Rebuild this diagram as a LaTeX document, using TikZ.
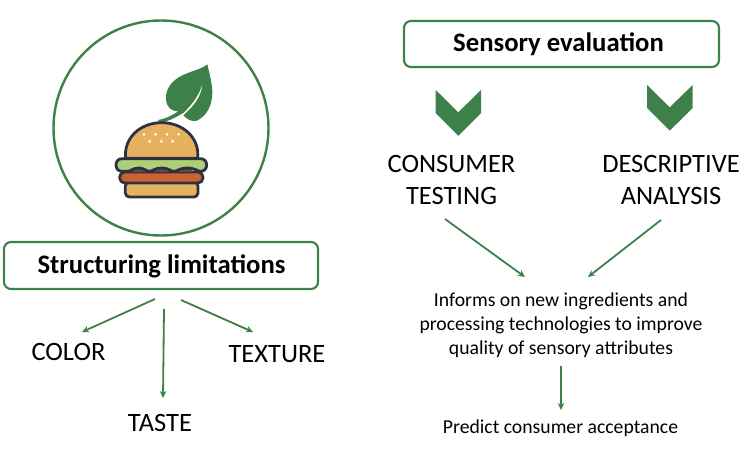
\documentclass[tikz,border=0pt]{standalone}
\usepackage{fontspec}
\setmainfont{Carlito}
\definecolor{grn}{RGB}{62,128,74}
\definecolor{dark}{RGB}{46,48,68}
\definecolor{bun}{RGB}{230,178,96}
\definecolor{lett}{RGB}{172,207,120}
\definecolor{patty}{RGB}{203,98,50}
\definecolor{meat}{RGB}{110,70,60}
\tikzset{
  titlebox/.style={draw=grn,line width=2.1pt,rounded corners=7pt,fill=white,inner sep=0pt},
  titletext/.style={font=\fontsize{26.7}{30}\selectfont\bfseries,text=black,inner sep=0pt},
  biglabel/.style={font=\fontsize{26.5}{32}\selectfont,align=center,text=black,inner sep=0pt},
  smalllabel/.style={font=\fontsize{19.7}{24}\selectfont,align=center,text=black,inner sep=0pt},
  conn/.style={draw=grn,line width=1.8pt,-{Stealth[length=7pt,width=6.5pt]}},
  chev/.style={fill=grn,draw=none},
  brg/.style={draw=dark,line width=2.8pt,line join=round},
}
\usetikzlibrary{arrows.meta}
\begin{document}
\begin{tikzpicture}[x=1pt,y=-1pt]
\useasboundingbox (0,0) rectangle (750,450);
\fill[white] (0,0) rectangle (750,450);
% circle
\node[circle,draw=grn,line width=2.4pt,minimum size=215pt,inner sep=0pt] (ring) at (161,128) {};
% leaf and burger
\begin{scope}[shift={(90,50)},x=0.3333pt,y=-0.3333pt]
  \fill[grn] (352,43) .. controls (330,62) and (285,65) .. (255,90)
     .. controls (230,110) and (222,140) .. (232,165)
     .. controls (240,180) and (255,185) .. (265,184)
     .. controls (245,197) and (225,207) .. (205,210)
     -- (207,219) .. controls (235,215) and (262,200) .. (281,188)
     .. controls (310,160) and (330,130) .. (338,100)
     .. controls (335,140) and (310,170) .. (280,196)
     .. controls (290,208) and (305,215) .. (318,213)
     .. controls (350,200) and (368,165) .. (367,125)
     .. controls (366,95) and (358,70) .. (352,43) -- cycle;
  \draw[brg,fill=bun] (107,325) .. controls (100,265) and (150,218) .. (215,218)
     .. controls (280,218) and (330,265) .. (323,325) -- cycle;
  \draw[brg,fill=bun,rounded corners=4pt] (106,396) -- (324,396) -- (324,441) -- (106,441) -- cycle;
  \draw[brg,fill=patty,rounded corners=5pt] (89,366) -- (339,366) -- (339,399) -- (89,399) -- cycle;
  \fill[meat] (122,366) .. controls (132,350) and (160,350) .. (170,366) -- cycle;
  \fill[meat] (192,366) .. controls (202,350) and (228,350) .. (238,366) -- cycle;
  \fill[meat] (262,366) .. controls (272,350) and (300,350) .. (310,366) -- cycle;
  \draw[brg,fill=lett] (96,326) -- (332,326) .. controls (356,326) and (356,364) .. (332,364)
     .. controls (322,364) and (316,354) .. (290,354) .. controls (270,354) and (262,364) .. (252,364)
     .. controls (242,364) and (236,354) .. (215,354) .. controls (194,354) and (188,364) .. (178,364)
     .. controls (168,364) and (162,354) .. (146,354) .. controls (130,354) and (122,364) .. (112,364)
     -- (96,364) .. controls (72,364) and (72,326) .. (96,326) -- cycle;
  \foreach \px/\py in {162/253,196/253,231/253,266/253,179/274,214/274,248/274}
    \fill[white!90!yellow] (\px,\py) circle (4.5);
\end{scope}
% boxes
\node[titlebox,minimum width=314pt,minimum height=47pt] (lbox) at (161,265.5) {};
\node[titletext] (ltext) at (161.5,266) {Structuring limitations};
\node[titlebox,minimum width=315pt,minimum height=46pt] (rbox) at (561.5,44) {};
\node[titletext] (rtext) at (558.5,44.5) {Sensory evaluation};
% chevrons
\fill[chev] (435.7,90) -- (458.3,112.3) -- (481,90) -- (481,113) -- (458.3,135.7) -- (435.7,113) -- cycle;
\fill[chev] (647,85) -- (669.7,107.3) -- (692.7,85) -- (692.7,108) -- (669.7,130.7) -- (647,108) -- cycle;
% labels
\node[biglabel] (cons) at (451.5,179.5) {CONSUMER\\TESTING};
\node[biglabel] (desc) at (671,179.5) {DESCRIPTIVE\\ANALYSIS};
\node[biglabel] (color) at (68.5,352) {COLOR};
\node[biglabel] (texture) at (277,354) {TEXTURE};
\node[biglabel] (taste) at (160,423) {TASTE};
\node[smalllabel] (inf) at (561,325) {Informs on new ingredients and\\processing technologies to improve\\quality of sensory attributes};
\node[smalllabel] (pred) at (560.5,428.5) {Predict consumer acceptance};
% connector ends
\coordinate (a1) at (155,299); \coordinate (a2) at (82,332);
\coordinate (b1) at (164,309); \coordinate (b2) at (163,398);
\coordinate (c1) at (181,300); \coordinate (c2) at (253,332);
\coordinate (d1) at (445,219); \coordinate (d2) at (525,277);
\coordinate (e1) at (661,220); \coordinate (e2) at (588,277);
\coordinate (f1) at (561,366); \coordinate (f2) at (561,410);
\draw[conn] (a1) -- (a2);
\draw[conn] (b1) -- (b2);
\draw[conn] (c1) -- (c2);
\draw[conn] (d1) -- (d2);
\draw[conn] (e1) -- (e2);
\draw[conn] (f1) -- (f2);
\end{tikzpicture}
\end{document}
